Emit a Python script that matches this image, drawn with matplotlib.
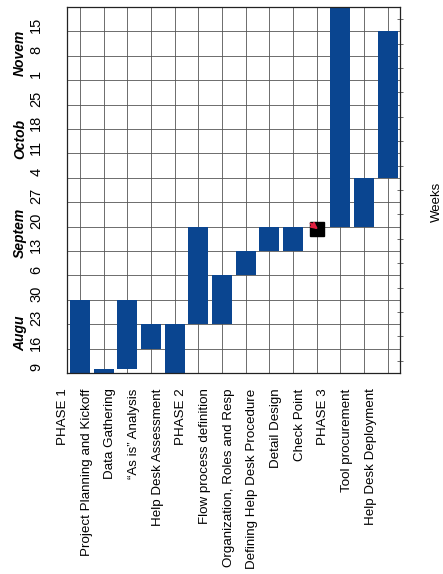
import matplotlib
matplotlib.use("Agg")
import matplotlib.pyplot as plt
import matplotlib.transforms as mtransforms
import numpy as np

plt.rcParams['font.family'] = ['Liberation Sans', 'DejaVu Sans']

# ---- data (time in weeks since Aug 9) ----
tasks = ["PHASE 1", "Project Planning and Kickoff", "Data Gathering",
         "\u201cAs is\u201d Analysis", "Help Desk Assessment", "PHASE 2",
         "Flow process definition", "Organization, Roles and Resp",
         "Defining Help Desk Procedure", "Detail Design", "Check Point",
         "PHASE 3", "Tool procurement", "Help Desk Deployment"]
task_start = [0, 0, 0.15, 1, 0, 2, 2, 4, 5, 5, None, 6, 6, 8]
task_end = [3, 0.15, 3, 2, 2, 6, 4, 5, 6, 6, None, 15, 8, 14]
milestone_task = "Check Point"
milestone_week = 5.9

week_labels = ['9', '16', '23', '30', '6', '13', '20', '27', '4', '11',
               '18', '25', '1', '8', '15']
month_labels = ['Augu', 'Septem', 'Octob', 'Novem']
month_pos = [1.65, 5.75, 9.6, 13.1]

bar_color = '#0a4590'

fig = plt.figure(figsize=(4.43, 5.74), dpi=100)
ax = fig.add_axes([0.151, 0.350, 0.752, 0.638])

x = np.arange(len(tasks))
for i, (s, e) in enumerate(zip(task_start, task_end)):
    if s is None:
        continue
    ax.bar(i, e - s, bottom=s, width=0.84, color=bar_color, zorder=2)

mi = tasks.index(milestone_task)
ax.plot(mi, milestone_week, 's', color='black', ms=10, zorder=3)
ax.annotate('', xy=(mi + 0.15, milestone_week - 0.08),
            xytext=(mi - 0.35, milestone_week + 0.3),
            arrowprops=dict(arrowstyle='-|>', color='#e02040', lw=1.4,
                            mutation_scale=9), zorder=4)

ax.set_xlim(-0.55, 13.52)
ax.set_ylim(0, 15)

ax.set_xticks(x)
ax.set_xticklabels(tasks, rotation=90, ha='center', va='top', fontsize=9.6)
ax.set_yticks(np.arange(len(week_labels)))
ax.set_yticklabels(week_labels, rotation=90, va='center', ha='right', fontsize=10.5)

ax.tick_params(axis='x', length=0, pad=11)
ax.tick_params(axis='y', which='major', length=0, pad=17)
ax.set_yticks(np.arange(0.5, 15, 1), minor=True)
ax.tick_params(axis='y', which='minor', left=False, right=True,
               direction='inout', length=4, width=0.6, color='#555555')

# offsets of labels as in reference
off_x = mtransforms.ScaledTranslation(-17 / 100, 0, fig.dpi_scale_trans)
for lab in ax.get_xticklabels():
    lab.set_transform(lab.get_transform() + off_x)
off_y = mtransforms.ScaledTranslation(0, 6 / 100, fig.dpi_scale_trans)
for lab in ax.get_yticklabels():
    lab.set_transform(lab.get_transform() + off_y)

ax.grid(True, which='major', color='#555555', lw=0.6)
ax.set_axisbelow(True)
for sp in ax.spines.values():
    sp.set_linewidth(0.9)
    sp.set_color('#222222')

trans = mtransforms.blended_transform_factory(ax.transAxes, ax.transData)
for m, p in zip(month_labels, month_pos):
    ax.text(-0.141, p, m, transform=trans, rotation=90, ha='center',
            va='center', fontsize=10, fontweight='bold', fontstyle='italic')

fig.text(437 / 443, 1 - 202 / 574, 'Weeks', rotation=90, ha='center',
         va='center', fontsize=9.5)

fig.savefig('out.png', dpi=100)
